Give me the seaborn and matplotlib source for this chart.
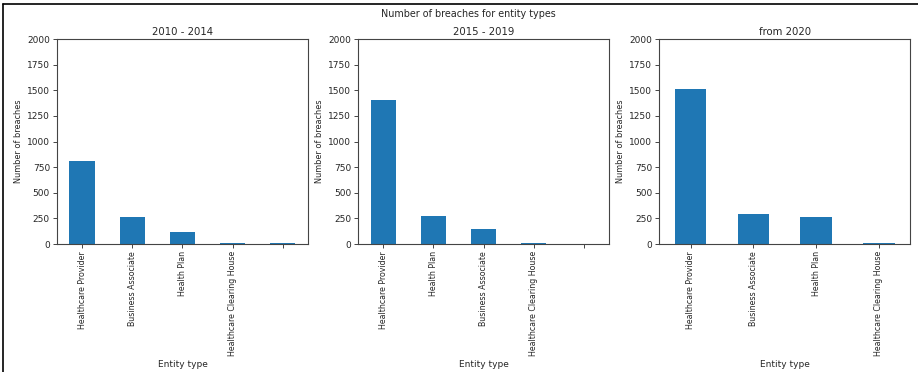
import numpy as np
import pandas as pd
import seaborn as sns
import matplotlib.pyplot as plt
from matplotlib.lines import Line2D

sns.set_style('white')
plt.rcParams['font.family'] = ['DejaVu Sans']

# breaches per entity type, by period
titles = ['2010 - 2014', '2015 - 2019', 'from 2020']
cats_1 = ['Healthcare Provider', 'Business Associate', 'Health Plan', 'Healthcare Clearing House', '']
vals_1 = [815, 265, 120, 10, 10]
cats_2 = ['Healthcare Provider', 'Health Plan', 'Business Associate', 'Healthcare Clearing House', '']
vals_2 = [1405, 275, 150, 10, 1]
cats_3 = ['Healthcare Provider', 'Business Associate', 'Health Plan', 'Healthcare Clearing House']
vals_3 = [1515, 290, 260, 10]

fig = plt.figure(figsize=(9.18, 3.72), dpi=100)
lefts = [0.062, 0.39, 0.718]
width = 0.2735
for left, title, cats, vals in zip(lefts, titles, [cats_1, cats_2, cats_3], [vals_1, vals_2, vals_3]):
    ax = fig.add_axes([left, 0.344, width, 0.551])
    df = pd.DataFrame({'Entity type': cats, 'n': vals})
    sns.barplot(data=df, x='Entity type', y='n', color='#1f77b4', saturation=1,
                width=0.5, linewidth=0, ax=ax)
    ax.set_xlim(-0.5, len(cats) - 0.5)
    ax.set_ylim(0, 2000)
    ax.set_yticks(np.arange(0, 2001, 250))
    ax.set_title(title, fontsize=7.3, pad=3)
    ax.set_xlabel('Entity type', fontsize=6.5, labelpad=3)
    ax.set_ylabel('Number of breaches', fontsize=5.9, labelpad=3)
    ax.tick_params(axis='x', rotation=90, labelsize=5.7, length=3, width=0.6, bottom=True, pad=2)
    ax.tick_params(axis='y', labelsize=6.5, length=3, width=0.6, left=True, pad=2)
    for s in ax.spines.values():
        s.set_color('#444444')
        s.set_linewidth(0.8)

fig.suptitle('Number of breaches for entity types', fontsize=6.9, x=0.51, y=0.975)
fig.add_artist(Line2D([0.003, 1.0], [0.989, 0.989], color='black', lw=1.2))
fig.add_artist(Line2D([0.003, 0.003], [0.0, 0.989], color='black', lw=1.2))

fig.savefig('out.png', dpi=100)
